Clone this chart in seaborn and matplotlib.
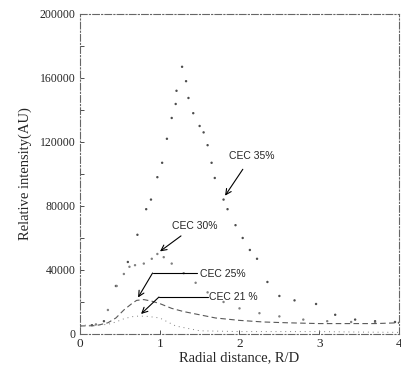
# Radial intensity profiles for several CEC levels

import numpy as np
import pandas as pd
import matplotlib
matplotlib.use('Agg')
import matplotlib.pyplot as plt
import seaborn as sns

# radial distance (R/D) and relative intensity (AU) for each series
r_35 = [0.0, 0.15, 0.3, 0.45, 0.6, 0.72, 0.83, 0.89, 0.97, 1.03, 1.09, 1.15, 1.2, 1.21,
        1.28, 1.33, 1.36, 1.42, 1.5, 1.55, 1.6, 1.65, 1.69, 1.8, 1.85, 1.95, 2.04, 2.13,
        2.22, 2.35, 2.5, 2.69, 2.96, 3.2, 3.45, 3.7, 3.95]
i_35 = [5000, 5500, 8000, 30000, 45000, 62000, 78000, 84000, 98000, 107000, 122000,
        135000, 143750, 152000, 167000, 158000, 147500, 138000, 130000, 126000, 118000,
        107000, 97500, 84000, 78000, 68000, 60000, 52500, 47000, 32500, 23750, 21000,
        18750, 12000, 9000, 8000, 7500]

r_30 = [0.0, 0.2, 0.35, 0.46, 0.55, 0.62, 0.69, 0.8, 0.9, 0.97, 1.05, 1.15, 1.3, 1.45,
        1.6, 1.8, 2.0, 2.25, 2.5, 2.8, 3.1, 3.4, 3.7, 4.0]
i_30 = [5000, 6000, 15000, 30000, 37500, 42000, 43000, 44000, 47000, 50000, 48000,
        44000, 38000, 32000, 26000, 20000, 16000, 13000, 11000, 9000, 8000, 7500, 7000, 7000]

r_25 = [0.0, 0.2, 0.35, 0.45, 0.55, 0.65, 0.71, 0.8, 0.9, 1.0, 1.15, 1.3, 1.5, 1.7,
        2.0, 2.3, 2.6, 3.0, 3.4, 3.7, 4.0]
i_25 = [5000, 5200, 7000, 10000, 15000, 19000, 21000, 21500, 20500, 19000, 16000,
        14000, 12000, 10000, 8500, 7500, 7000, 6500, 6500, 6500, 7000]

r_21 = [0.0, 0.2, 0.35, 0.45, 0.55, 0.65, 0.74, 0.85, 1.0, 1.2, 1.5, 2.0, 2.5, 3.0,
        3.5, 4.0]
i_21 = [5500, 5500, 6000, 7500, 9500, 10800, 11200, 11000, 10000, 5000, 2000, 1500,
        1500, 1500, 1200, 1000]

labels = ['CEC 35%', 'CEC 30%', 'CEC 25%', 'CEC 21 %']

sns.set_style('ticks')
plt.rcParams['font.family'] = ['Liberation Serif', 'DejaVu Serif']
plt.rcParams['xtick.direction'] = 'in'
plt.rcParams['ytick.direction'] = 'in'

fig = plt.figure(figsize=(4.01, 3.69), dpi=100)
ax = fig.add_axes([0.1995, 0.0949, 0.7955, 0.8672])

df35 = pd.DataFrame({'r': r_35, 'i': i_35})
df30 = pd.DataFrame({'r': r_30, 'i': i_30})
df25 = pd.DataFrame({'r': r_25, 'i': i_25})
df21 = pd.DataFrame({'r': r_21, 'i': i_21})

# the two big profiles are only faint dots in the scan
sns.scatterplot(data=df35, x='r', y='i', ax=ax, s=3, color='0.3', edgecolor='none')
sns.scatterplot(data=df30, x='r', y='i', ax=ax, s=3, color='0.5', edgecolor='none')
# the low profiles show up as broken lines
sns.lineplot(data=df25, x='r', y='i', ax=ax, color='0.35', linewidth=0.8,
             linestyle=(0, (5, 3)))
sns.lineplot(data=df21, x='r', y='i', ax=ax, color='0.5', linewidth=0.7,
             linestyle=(0, (1, 4)))

ax.set_xlim(0, 4)
ax.set_ylim(0, 200000)
ax.set_xticks([0, 1, 2, 3, 4])
ax.set_yticks([0, 40000, 80000, 120000, 160000, 200000])
ax.set_yticks(np.arange(20000, 200000, 40000), minor=True)
ax.set_yticklabels(['0', '40000', '80000', '120000', '160000', '200000'])
ax.tick_params(axis='both', which='both', length=3, width=0.7, color='0.3',
               labelsize=8.5, pad=3, top=False, right=False)
ax.tick_params(axis='x', labelsize=9.5)
ax.set_xlabel('Radial distance, R/D', fontsize=10.5, labelpad=1)
ax.set_ylabel('Relative intensity(AU)', fontsize=10.5, labelpad=6)

# the frame looks broken in the scanned figure
for name, sp in ax.spines.items():
    sp.set_linestyle((0, (6, 2, 1, 2)))
    sp.set_color('0.4')
    sp.set_linewidth(0.8)

# callouts
note = dict(fontsize=7.5, family=['Liberation Sans', 'DejaVu Sans'])
arrow = dict(arrowstyle='->', color='black', lw=0.8, mutation_scale=10)
ax.annotate(labels[0], xy=(1.8, 85000), xytext=(2.15, 111000),
            ha='center', va='center', arrowprops=dict(arrow, shrinkA=4), **note)
ax.annotate(labels[1], xy=(0.975, 50600), xytext=(1.15, 67500),
            ha='left', va='center', arrowprops=dict(arrow, shrinkA=2), **note)

ax.plot([0.91, 1.47], [38100, 38100], color='black', lw=0.8)
ax.annotate('', xy=(0.71, 21300), xytext=(0.91, 38100), arrowprops=dict(arrow, shrinkA=0))
ax.text(1.5, 37500, labels[2], ha='left', va='center', **note)

ax.plot([0.99, 1.61], [23100, 23100], color='black', lw=0.8)
ax.annotate('', xy=(0.74, 11300), xytext=(0.99, 23100), arrowprops=dict(arrow, shrinkA=0))
ax.text(1.62, 23100, labels[3], ha='left', va='center', **note)

fig.savefig('out.png', dpi=100)
